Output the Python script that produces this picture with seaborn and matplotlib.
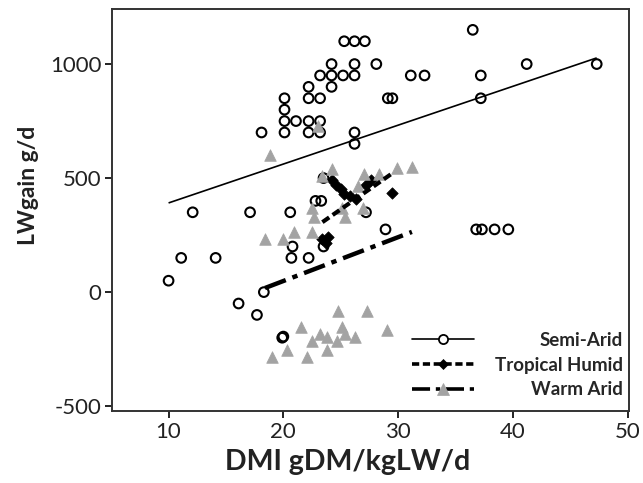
import matplotlib
matplotlib.use("Agg")
import matplotlib.pyplot as plt
from matplotlib.lines import Line2D
import numpy as np
import pandas as pd
import seaborn as sns

# Semi-Arid (open circles)
semi_x = [10.0, 11.1, 12.1, 14.1, 16.1, 17.1, 17.7, 18.3, 18.1, 19.9, 20.0, 20.6,
          20.8, 20.7, 22.2, 22.8, 23.3, 23.5, 23.5, 26.2, 26.2, 27.2, 28.9, 36.8,
          37.3, 38.4, 39.6, 20.1, 20.1, 20.1, 20.1, 21.1, 22.2, 22.2, 22.2, 22.2,
          23.2, 23.2, 23.2, 23.2, 24.2, 24.2, 24.2, 25.2, 26.2, 26.2, 25.3, 26.2,
          27.1, 28.1, 29.1, 29.5, 31.1, 32.3, 36.5, 37.2, 37.2, 41.2, 47.3]
semi_y = [50, 150, 350, 150, -50, 350, -100, 0, 700, -200, -195, 350,
          200, 150, 150, 400, 400, 500, 200, 650, 700, 350, 275, 275,
          275, 275, 275, 850, 800, 750, 700, 750, 900, 850, 750, 700,
          950, 850, 750, 700, 1000, 950, 900, 950, 1000, 950, 1100, 1100,
          1100, 1000, 850, 850, 950, 950, 1150, 950, 850, 1000, 1000]

# Tropical Humid (black diamonds)
trop_x = [23.4, 23.9, 23.7, 24.2, 24.6, 25.0, 25.3, 25.8, 26.3, 27.2, 27.6, 29.5]
trop_y = [235, 240, 215, 490, 470, 450, 430, 420, 410, 470, 490, 435]

# Warm Arid (grey triangles)
warm_x = [18.8, 23.0, 24.2, 23.4, 26.5, 27.0, 28.3, 29.9, 31.2, 22.5, 22.7,
          25.1, 25.4, 26.9, 20.9, 22.5, 18.4, 20.0, 19.0, 20.3, 21.5, 22.1,
          22.5, 23.2, 23.8, 23.8, 24.7, 24.8, 25.1, 25.4, 26.2, 27.3, 29.0]
warm_y = [600, 730, 540, 510, 465, 520, 520, 545, 550, 370, 330,
          370, 330, 370, 265, 265, 235, 235, -285, -255, -155, -285,
          -215, -185, -195, -255, -215, -85, -155, -185, -195, -85, -165]

groups = ["Semi-Arid", "Tropical Humid", "Warm Arid"]
# fitted lines: intercept, slope
fit_intercept = [220.5, -517.0, -335.7]
fit_slope = [17.05, 35.2, 19.22]

x_ticks = [10, 20, 30, 40, 50]
y_ticks = [-500, 0, 500, 1000]

df = pd.concat([
    pd.DataFrame({"dmi": semi_x, "gain": semi_y, "zone": groups[0]}),
    pd.DataFrame({"dmi": trop_x, "gain": trop_y, "zone": groups[1]}),
    pd.DataFrame({"dmi": warm_x, "gain": warm_y, "zone": groups[2]}),
], ignore_index=True)

sns.set_theme(style="white")
plt.rcParams["font.family"] = ["Lato", "DejaVu Sans"]
plt.rcParams["axes.unicode_minus"] = False

GREY = "#a3a3a3"
STYLE = {
    "Semi-Arid": dict(marker="o", s=48, facecolor="none", edgecolor="black",
                      linewidth=1.5),
    "Tropical Humid": dict(marker="D", s=34, color="black", edgecolor="black",
                           linewidth=0.5),
    "Warm Arid": dict(marker="^", s=70, color=GREY, edgecolor=GREY,
                      linewidth=0.5),
}
LINE = {
    "Semi-Arid": dict(color="black", lw=1.2, ls="-"),
    "Tropical Humid": dict(color="black", lw=3.0, ls=(0, (2.0, 1.0))),
    "Warm Arid": dict(color="black", lw=3.2, ls=(0, (5.0, 1.6, 1.2, 1.6))),
}

fig = plt.figure(figsize=(6.43, 4.83), dpi=100)
ax = fig.add_axes([0.1747, 0.1497, 0.8033, 0.831])

for g in groups:
    sub = df[df["zone"] == g]
    sns.scatterplot(data=sub, x="dmi", y="gain", ax=ax, legend=False,
                    zorder=3, **STYLE[g])

for g, b0, b1 in zip(groups, fit_intercept, fit_slope):
    sub = df[df["zone"] == g]
    xs = np.array([sub["dmi"].min(), sub["dmi"].max()])
    ax.plot(xs, b0 + b1 * xs, zorder=4, solid_capstyle="butt",
            dash_capstyle="butt", **LINE[g])

ax.set_xlim(5.1, 50.1)
ax.set_ylim(-520, 1240)
ax.set_xticks(x_ticks)
ax.set_yticks(y_ticks)
ax.tick_params(axis="both", direction="out", length=5, width=1.4,
               labelsize=16, color="#222222", labelcolor="#222222",
               bottom=True, left=True, pad=3)
for sp in ax.spines.values():
    sp.set_visible(True)
    sp.set_color("#333333")
    sp.set_linewidth(1.4)

ax.set_xlabel("DMI gDM/kgLW/d", fontsize=20.5, fontweight="bold", color="#222222")
ax.set_ylabel("LWgain g/d", fontsize=16.5, fontweight="bold", color="#222222")
ax.xaxis.set_label_coords(0.456, -0.128)
ax.xaxis.label.set_va("center")
ax.yaxis.set_label_coords(-0.163, 0.562)
ax.yaxis.label.set_va("center")

handles = []
for g in groups:
    st = STYLE[g]
    ln = LINE[g]
    handles.append(Line2D([], [], color="black", lw=min(ln["lw"], 2.6),
                          ls=ln["ls"], marker=st["marker"],
                          markersize=np.sqrt(st["s"]) * 0.95,
                          markerfacecolor="white" if g == "Semi-Arid" else st["color"],
                          markeredgecolor=st["edgecolor"],
                          markeredgewidth=1.3 if g == "Semi-Arid" else 0.5,
                          dash_capstyle="butt"))
leg = ax.legend(handles, groups, loc="lower right", bbox_to_anchor=(1.003, 0.012),
                frameon=False, prop={"weight": "bold", "size": 13.5},
                handlelength=3.3, handletextpad=1.1, labelspacing=0.42,
                borderpad=0.2, borderaxespad=0.2)

# right-align the legend texts
fig.canvas.draw()
texts = leg.get_texts()
widths = [t.get_window_extent().width for t in texts]
for t, w in zip(texts, widths):
    t.set_position((max(widths) - w, 0))

fig.savefig("out.png", dpi=100)
